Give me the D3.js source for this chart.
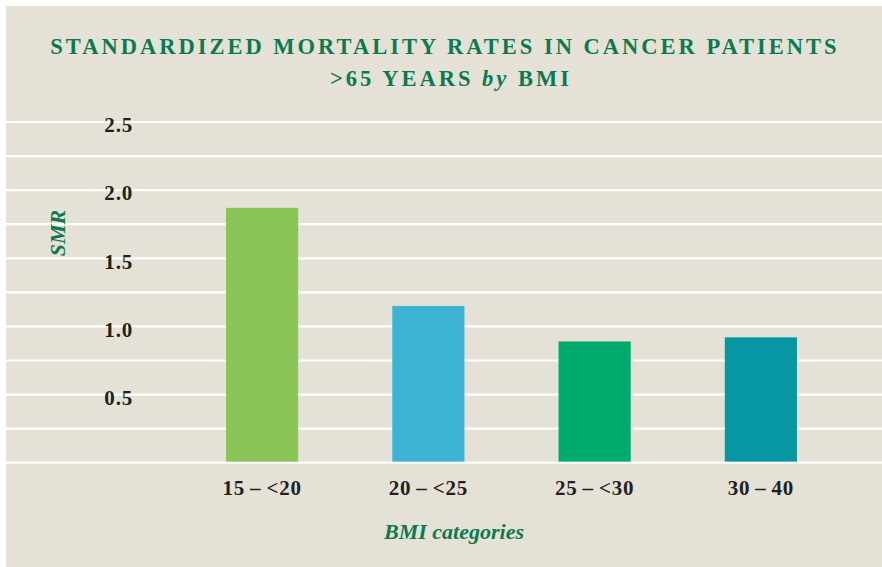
<!DOCTYPE html>
<html>
<head>
    <style>
        body { margin: 0; background: #fff; }
        text { font-family: "Liberation Serif", "DejaVu Serif", serif; }
        .title { fill: #0b7a50; font-weight: bold; text-anchor: middle; font-size: 22.5px; letter-spacing: 3px; }
        .tick-label { fill: #231f20; font-weight: bold; font-size: 21px; letter-spacing: 0.8px; }
        .axis-title { fill: #0b7a50; font-weight: bold; font-style: italic; font-size: 22px; text-anchor: middle; }
    </style>
    <script src="https://d3js.org/d3.v7.min.js"></script>
</head>
<body>
    <svg width="882" height="567"></svg>
    <script>
        // data
        var categories = ["15\u2009\u2013\u2009<20", "20\u2009\u2013\u2009<25", "25\u2009\u2013\u2009<30", "30\u2009\u2013\u200940"];
        var smr = [1.87, 1.15, 0.89, 0.92];
        var colors = ["#8ac557", "#3db4d4", "#00ab6e", "#0797a3"];
        var gridValues = [0, 0.25, 0.5, 0.75, 1, 1.25, 1.5, 1.75, 2, 2.25, 2.5];
        var tickValues = [0.5, 1.0, 1.5, 2.0, 2.5];

        var svg = d3.select("svg"),
            width = +svg.attr("width"),
            height = +svg.attr("height");

        // beige panel
        svg.append("rect")
           .attr("x", 6).attr("y", 6)
           .attr("width", width - 6).attr("height", height - 6)
           .attr("fill", "#e5e1d6");

        var x = d3.scaleBand()
                  .domain(categories)
                  .range([179, 844])
                  .paddingInner(0.566)
                  .paddingOuter(0.283);

        var y = d3.scaleLinear()
                  .domain([0, 2.5])
                  .range([462.7, 122]);

        // gridlines
        svg.append("g").selectAll("line")
           .data(gridValues)
           .enter().append("line")
           .attr("x1", 6).attr("x2", width)
           .attr("y1", function(d) { return y(d); })
           .attr("y2", function(d) { return y(d); })
           .attr("stroke", "#fff")
           .attr("stroke-width", 2.2);

        // bars
        svg.append("g").selectAll("rect")
           .data(smr)
           .enter().append("rect")
           .attr("x", function(d, i) { return x(categories[i]); })
           .attr("width", x.bandwidth())
           .attr("y", function(d) { return y(d); })
           .attr("height", function(d) { return y(0) - y(d) - 1.1; })
           .attr("fill", function(d, i) { return colors[i]; });

        // y axis labels
        var yAxis = d3.axisLeft(y).tickValues(tickValues).tickFormat(d3.format(".1f")).tickSize(0).tickPadding(0);
        var ya = svg.append("g").attr("transform", "translate(133,3)").call(yAxis);
        ya.select(".domain").remove();
        ya.selectAll("text").attr("class", "tick-label").attr("font-family", null).attr("font-size", null);

        // x axis labels
        var xAxis = d3.axisBottom(x).tickSize(0).tickPadding(0);
        var xa = svg.append("g").attr("transform", "translate(0,480)").call(xAxis);
        xa.select(".domain").remove();
        xa.selectAll("text").attr("class", "tick-label").attr("font-family", null).attr("font-size", null);

        // axis titles
        svg.append("text")
           .attr("class", "axis-title")
           .attr("transform", "translate(65,233) rotate(-90)")
           .text("SMR");

        svg.append("text")
           .attr("class", "axis-title")
           .attr("x", 454).attr("y", 539)
           .text("BMI categories");

        // title
        svg.append("text")
           .attr("class", "title")
           .attr("x", 445).attr("y", 54)
           .text("STANDARDIZED MORTALITY RATES IN CANCER PATIENTS");

        var t2 = svg.append("text")
           .attr("class", "title")
           .attr("x", 451).attr("y", 86);
        t2.append("tspan").text(">65 YEARS ");
        t2.append("tspan").style("font-style", "italic").text("by");
        t2.append("tspan").text(" BMI");
    </script>
</body>
</html>
